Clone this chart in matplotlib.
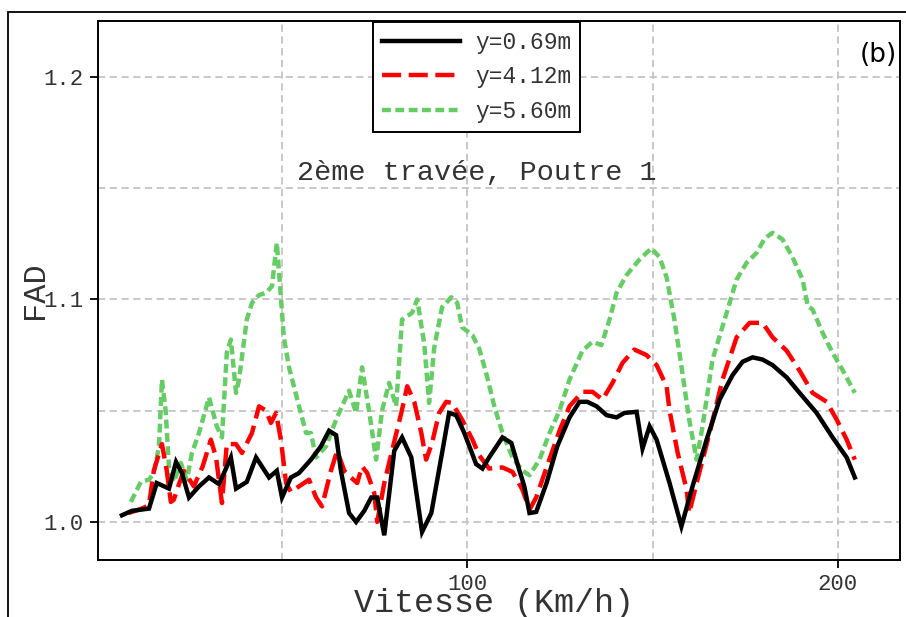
import numpy as np
import matplotlib
matplotlib.use("Agg")
import matplotlib.pyplot as plt
from matplotlib.patches import Rectangle
from matplotlib.ticker import MultipleLocator

# FAD along the 2nd span, beam 1, for three transverse positions
v_069 = [6.8, 9.5, 14.1, 16.2, 19.5, 21.4, 23.0, 24.9, 27.6, 30.3, 33.0, 36.2, 37.6,
         40.5, 43.0, 46.5, 48.6, 50.0, 52.4, 54.6, 57.8, 60.5, 62.7, 64.6, 65.9,
         68.1, 70.0, 72.2, 74.1, 75.7, 77.6, 80.3, 82.4, 84.9, 87.8, 90.3, 93.2,
         95.1, 97.0, 99.2, 102.4, 104.1, 105.9, 109.5, 111.9, 114.1, 115.4, 116.8,
         118.6, 121.4, 124.3, 127.6, 130.3, 132.4, 134.9, 137.6, 140.3, 142.4,
         145.7, 147.3, 149.2, 151.1, 154.6, 157.8, 160.8, 164.6, 168.1, 171.6,
         174.3, 177.0, 179.7, 182.4, 186.2, 189.7, 194.3, 198.6, 202.4, 204.6]
fad_069 = [1.003, 1.005, 1.006, 1.0175, 1.015, 1.027, 1.022, 1.011, 1.016, 1.020,
           1.017, 1.029, 1.015, 1.018, 1.029, 1.020, 1.023, 1.011, 1.020, 1.022,
           1.028, 1.034, 1.041, 1.039, 1.023, 1.004, 1.000, 1.005, 1.011, 1.011,
           0.994, 1.032, 1.038, 1.029, 0.9955, 1.004, 1.031, 1.049, 1.048, 1.040,
           1.026, 1.024, 1.029, 1.038, 1.0355, 1.023, 1.016, 1.004, 1.0045, 1.0175,
           1.034, 1.047, 1.054, 1.054, 1.052, 1.048, 1.047, 1.049, 1.0495, 1.033,
           1.043, 1.037, 1.0175, 0.998, 1.016, 1.037, 1.055, 1.066, 1.072, 1.074,
           1.073, 1.0705, 1.065, 1.058, 1.049, 1.038, 1.029, 1.020]

v_412 = [8.6, 12.2, 14.1, 15.4, 17.6, 18.9, 20.0, 20.8, 22.2, 23.5, 26.2, 28.6,
         30.8, 32.2, 33.8, 35.1, 37.6, 39.2, 41.9, 43.8, 45.7, 47.0, 48.4, 49.7,
         51.1, 52.4, 54.6, 57.3, 59.2, 60.8, 63.2, 64.9, 66.8, 68.6, 70.3, 71.6,
         73.0, 74.9, 75.7, 77.6, 79.7, 82.2, 83.8, 85.7, 87.6, 88.9, 90.5, 92.4,
         94.3, 95.9, 98.6, 101.4, 103.2, 105.9, 109.5, 112.2, 114.9, 116.8, 118.6,
         121.4, 124.9, 127.6, 131.1, 133.8, 136.5, 139.2, 141.9, 145.1, 148.4,
         151.1, 153.8, 154.6, 156.8, 159.2, 159.9, 161.9, 165.4, 168.9, 172.7,
         176.2, 179.7, 182.4, 186.2, 189.7, 193.2, 197.0, 199.7, 202.4, 204.6]
fad_412 = [1.004, 1.006, 1.0076, 1.023, 1.035, 1.023, 1.009, 1.010, 1.017, 1.023,
           1.016, 1.025, 1.037, 1.029, 1.0085, 1.035, 1.035, 1.031, 1.040, 1.052,
           1.050, 1.0445, 1.049, 1.037, 1.0175, 1.0135, 1.016, 1.019, 1.011, 1.007,
           1.023, 1.032, 1.023, 1.020, 1.0175, 1.025, 1.022, 1.013, 1.000, 1.0175,
           1.032, 1.049, 1.061, 1.054, 1.040, 1.028, 1.0355, 1.049, 1.054, 1.0535,
           1.046, 1.037, 1.030, 1.024, 1.0245, 1.0225, 1.0145, 1.0055, 1.011, 1.0245,
           1.041, 1.052, 1.0585, 1.0585, 1.055, 1.0625, 1.0715, 1.0775, 1.075,
           1.0705, 1.061, 1.050, 1.031, 1.0145, 1.004, 1.0175, 1.040, 1.064, 1.083,
           1.0895, 1.0895, 1.083, 1.077, 1.068, 1.058, 1.054, 1.046, 1.037, 1.028]

v_560 = [9.2, 11.9, 14.1, 15.4, 16.8, 17.6, 18.6, 19.5, 20.8, 22.7, 24.3, 25.7,
         27.6, 30.3, 32.4, 33.8, 35.1, 36.2, 37.6, 38.4, 40.5, 41.9, 43.8, 45.7,
         47.3, 48.6, 49.7, 50.5, 51.9, 54.6, 56.5, 57.8, 59.2, 61.9, 64.6, 68.1,
         70.0, 71.6, 73.5, 75.4, 77.0, 78.9, 80.8, 82.4, 85.1, 86.5, 88.4, 89.7,
         91.1, 93.2, 95.7, 97.3, 98.6, 101.4, 103.2, 105.1, 107.3, 109.5, 112.2,
         114.9, 116.8, 119.5, 122.2, 124.9, 127.6, 131.1, 133.8, 136.2, 138.4,
         140.3, 143.0, 146.5, 149.7, 151.9, 153.8, 155.9, 157.8, 159.9, 161.9,
         163.5, 166.2, 170.0, 172.7, 175.4, 178.1, 180.3, 182.4, 185.1, 187.8,
         190.5, 191.9, 193.2, 195.9, 198.6, 201.4, 204.6]
fad_560 = [1.009, 1.018, 1.019, 1.022, 1.034, 1.064, 1.050, 1.0245, 1.018, 1.0265,
           1.019, 1.031, 1.040, 1.056, 1.043, 1.038, 1.076, 1.082, 1.058, 1.064,
           1.091, 1.0985, 1.102, 1.103, 1.106, 1.1255, 1.101, 1.083, 1.0695, 1.052,
           1.040, 1.040, 1.029, 1.034, 1.046, 1.059, 1.049, 1.0695, 1.050, 1.028,
           1.050, 1.0625, 1.052, 1.091, 1.094, 1.100, 1.080, 1.0535, 1.0785, 1.0965,
           1.101, 1.0985, 1.0875, 1.084, 1.078, 1.067, 1.052, 1.040, 1.029, 1.023,
           1.021, 1.028, 1.040, 1.050, 1.064, 1.077, 1.081, 1.0795, 1.091, 1.103,
           1.111, 1.118, 1.123, 1.119, 1.110, 1.091, 1.070, 1.046, 1.028, 1.043,
           1.073, 1.094, 1.109, 1.1165, 1.121, 1.1275, 1.130, 1.127, 1.119, 1.109,
           1.097, 1.0955, 1.085, 1.076, 1.068, 1.058]

labels = ["y=0.69m", "y=4.12m", "y=5.60m"]
mono = "Liberation Mono"
txt = "#333333"

fig = plt.figure(figsize=(9.06, 6.17), dpi=100)
ax = fig.add_axes([0.108, 0.0924, 0.8854, 0.8736])

ax.plot(v_069, fad_069, color="black", lw=3.2, solid_joinstyle="miter",
        label=labels[0], zorder=5)
ax.plot(v_412, fad_412, color="#FF0000", lw=3.2, dashes=(4.3, 1.7),
        label=labels[1], zorder=4)
ax.plot(v_560, fad_560, color="#66CC66", lw=3.2, dashes=(2.0, 1.0),
        label=labels[2], zorder=3)

ax.set_xlim(0.3, 216.8)
ax.set_ylim(0.9829, 1.2252)
ax.set_xticks([100, 200])
ax.set_yticks([1.0, 1.1, 1.2])
ax.set_yticklabels(["1.0", "1.1", "1.2"])
ax.xaxis.set_minor_locator(MultipleLocator(50))
ax.yaxis.set_minor_locator(MultipleLocator(0.05))
ax.tick_params(which="minor", length=0)
ax.tick_params(which="major", length=6, width=1.3, pad=4, labelsize=16,
               labelcolor=txt, direction="out")
for lab in ax.get_xticklabels() + ax.get_yticklabels():
    lab.set_family(mono)
ax.grid(True, which="both", color="#C4C4C4", lw=1.3, ls=(0, (4, 2.5)), zorder=0)
for sp in ax.spines.values():
    sp.set_linewidth(1.4)
    sp.set_color("black")

ax.set_xlabel("Vitesse (Km/h)", family=mono, fontsize=24, color=txt, va="top")
ax.xaxis.set_label_coords(0.494, -0.052)
ax.set_ylabel("FAD", family=mono, fontsize=23, color=txt, va="center")
ax.yaxis.set_label_coords(-0.0786, 0.5)

ax.text(102.6, 1.157, "2ème travée, Poutre 1", family=mono, fontsize=20.5,
        color=txt, ha="center", va="center")
ax.text(0.996, 0.937, "(b)", transform=ax.transAxes, family="DejaVu Sans",
        fontsize=19, ha="right", va="center", color="black")

leg = ax.legend(loc="upper left", bbox_to_anchor=(0.343, 0.999), borderaxespad=0,
                prop={"family": mono, "size": 16.5}, handlelength=3.4,
                handletextpad=0.65, labelspacing=0.5, fancybox=False,
                framealpha=1, edgecolor="black")
leg.get_frame().set_linewidth(1.4)
for t in leg.get_texts():
    t.set_color(txt)

# outer frame around the panel
fig.patches.append(Rectangle((8 / 906, -0.1), 1.2, (617 - 12) / 617 + 0.1,
                             transform=fig.transFigure, fill=False,
                             edgecolor="black", lw=1.3, clip_on=False))

fig.savefig("out.png", dpi=100)
